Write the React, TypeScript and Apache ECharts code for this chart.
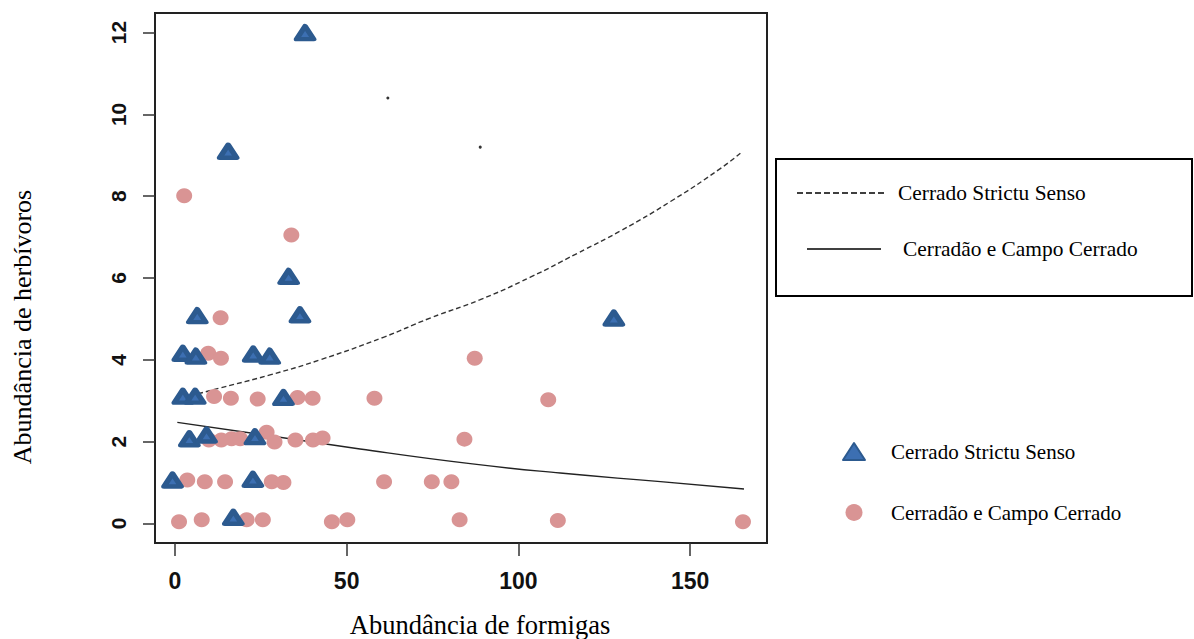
import React, { useEffect, useRef } from "react";
import * as echarts from "echarts";

// Cerrado Strictu Senso (triangles)
const strictoX = [37.9, 15.5, 33.1, 6.5, 36.4, 127.8, 2.3, 6.1, 22.8, 27.6, 2.3, 5.9, 31.6, 4.2, 9.2, 23.3, -0.7, 22.7, 17.0];
const strictoY = [12.0, 9.1, 6.04, 5.08, 5.1, 5.02, 4.16, 4.09, 4.14, 4.09, 3.11, 3.11, 3.08, 2.07, 2.16, 2.12, 1.06, 1.08, 0.15];

// Cerradão e Campo Cerrado (circles)
const cerradaoX = [2.7, 33.9, 13.3, 9.7, 13.4, 87.3, 11.4, 16.3, 24.1, 35.7, 40.1, 58.1, 108.7, 9.9, 13.5, 16.5, 19.0, 26.7, 29.0, 35.1, 40.2, 43.0, 84.3, 3.6, 8.7, 14.6, 28.2, 31.6, 60.9, 74.8, 80.5, 1.2, 7.8, 20.9, 25.6, 45.7, 50.2, 82.9, 111.5, 165.4];
const cerradaoY = [8.01, 7.05, 5.03, 4.16, 4.04, 4.04, 3.1, 3.06, 3.04, 3.08, 3.06, 3.06, 3.02, 2.04, 2.04, 2.07, 2.07, 2.23, 1.99, 2.04, 2.04, 2.09, 2.06, 1.06, 1.02, 1.02, 1.02, 1.0, 1.02, 1.02, 1.02, 0.04, 0.09, 0.09, 0.09, 0.04, 0.09, 0.09, 0.07, 0.04];

// fitted curves
const fitStrictoX = [0, 13.1, 27.7, 42.3, 60.7, 74.3, 88.9, 103.5, 117.1, 129.7, 144.3, 158.9, 165.2];
const fitStrictoY = [3.02, 3.31, 3.63, 4.0, 4.55, 5.02, 5.47, 6.02, 6.6, 7.15, 7.87, 8.68, 9.09];
const fitCerradaoX = [0.7, 53.9, 86.0, 112.2, 141.4, 165.7];
const fitCerradaoY = [2.47, 1.82, 1.46, 1.23, 1.02, 0.84];

// stray dots in the plot
const dotsX = [62.0, 88.9];
const dotsY = [10.4, 9.2];

const xTicks = [0, 50, 100, 150];
const yTicks = [0, 2, 4, 6, 8, 10, 12];

const nameStricto = "Cerrado Strictu Senso";
const nameCerradao = "Cerradão e Campo Cerrado";
const xTitle = "Abundância de formigas";
const yTitle = "Abundância de herbívoros";

const zip = (xs: number[], ys: number[]) => xs.map((x, i) => [x, ys[i]]);

export default function App() {
  const ref = useRef<HTMLDivElement>(null);
  useEffect(() => {
    if (!ref.current) return;
    const chart = echarts.init(ref.current, null, { renderer: "svg" });
    const serif = "'Liberation Serif', 'Times New Roman', serif";
    const sans = "'Liberation Sans', Arial, sans-serif";
    chart.setOption({
      animation: false,
      backgroundColor: "#ffffff",
      grid: {
        left: 155,
        right: 427,
        top: 13,
        bottom: 96,
        show: true,
        borderColor: "#222",
        borderWidth: 2,
        backgroundColor: "transparent",
      },
      xAxis: {
        type: "value",
        min: -5.8,
        max: 172.4,
        axisLine: { show: false, onZero: false },
        splitLine: { show: false },
        axisTick: { show: true, inside: false, length: 13, customValues: xTicks, lineStyle: { color: "#333", width: 1.5 } },
        axisLabel: {
          customValues: xTicks,
          margin: 26,
          fontFamily: sans,
          fontWeight: "bold",
          fontSize: 23,
          color: "#111",
        },
      },
      yAxis: {
        type: "value",
        min: -0.48,
        max: 12.48,
        axisLine: { show: false, onZero: false },
        splitLine: { show: false },
        axisTick: { show: true, inside: false, length: 12, customValues: yTicks, lineStyle: { color: "#333", width: 1.5 } },
        axisLabel: {
          customValues: yTicks,
          rotate: 90,
          margin: 26,
          fontFamily: sans,
          fontWeight: "bold",
          fontSize: 21,
          color: "#111",
        },
      },
      legend: {
        data: [nameStricto, nameCerradao],
        orient: "vertical",
        left: 842,
        top: 441,
        padding: 0,
        itemWidth: 22,
        itemHeight: 17,
        itemGap: 40,
        textStyle: { fontFamily: serif, fontSize: 21, color: "#000", lineHeight: 20, padding: [0, 0, 0, 21] },
      },
      series: [
        {
          name: "Ajuste " + nameStricto,
          type: "line",
          data: zip(fitStrictoX, fitStrictoY),
          smooth: true,
          showSymbol: false,
          lineStyle: { color: "#333", width: 1.4, type: [5, 3] },
          z: 2,
        },
        {
          name: "Ajuste " + nameCerradao,
          type: "line",
          data: zip(fitCerradaoX, fitCerradaoY),
          smooth: true,
          showSymbol: false,
          lineStyle: { color: "#222", width: 1.4 },
          z: 2,
        },
        {
          name: "pontos",
          type: "scatter",
          data: zip(dotsX, dotsY),
          symbol: "circle",
          symbolSize: 3,
          itemStyle: { color: "#333", opacity: 1 },
          z: 2,
        },
        {
          name: nameCerradao,
          type: "scatter",
          data: zip(cerradaoX, cerradaoY),
          symbol: "circle",
          symbolSize: [16, 15],
          itemStyle: { color: "#d99494", opacity: 1 },
          z: 3,
        },
        {
          name: nameStricto,
          type: "scatter",
          data: zip(strictoX, strictoY),
          symbol: "triangle",
          symbolSize: [17, 13],
          itemStyle: { color: "#3c6fb2", borderColor: "#2c5a8f", borderWidth: 5, borderJoin: "round", opacity: 1 },
          z: 4,
        },
      ],
      graphic: [
        {
          type: "rect",
          shape: { x: 776, y: 159, width: 416, height: 137 },
          style: { fill: "none", stroke: "#000", lineWidth: 2 },
        },
        {
          type: "line",
          shape: { x1: 797, y1: 193, x2: 885, y2: 193 },
          style: { stroke: "#000", lineWidth: 1.5, lineDash: [6, 3] },
        },
        {
          type: "text",
          x: 898,
          y: 193,
          style: { text: nameStricto, fontFamily: serif, fontSize: 21.4, fill: "#000", verticalAlign: "middle" },
        },
        {
          type: "line",
          shape: { x1: 807, y1: 249, x2: 881, y2: 249 },
          style: { stroke: "#000", lineWidth: 1.5 },
        },
        {
          type: "text",
          x: 903,
          y: 249,
          style: { text: nameCerradao, fontFamily: serif, fontSize: 21.4, fill: "#000", verticalAlign: "middle" },
        },
        {
          type: "text",
          x: 480,
          y: 625,
          style: { text: xTitle, fontFamily: serif, fontSize: 26.5, fill: "#000", align: "center", verticalAlign: "middle" },
        },
        {
          type: "text",
          x: 22,
          y: 327,
          rotation: Math.PI / 2,
          style: { text: yTitle, fontFamily: serif, fontSize: 26, fill: "#000", align: "center", verticalAlign: "middle" },
        },
      ],
    });
    return () => chart.dispose();
  }, []);
  return <div ref={ref} style={{ position: "absolute", left: 0, top: 0, width: 1194, height: 639 }} />;
}
